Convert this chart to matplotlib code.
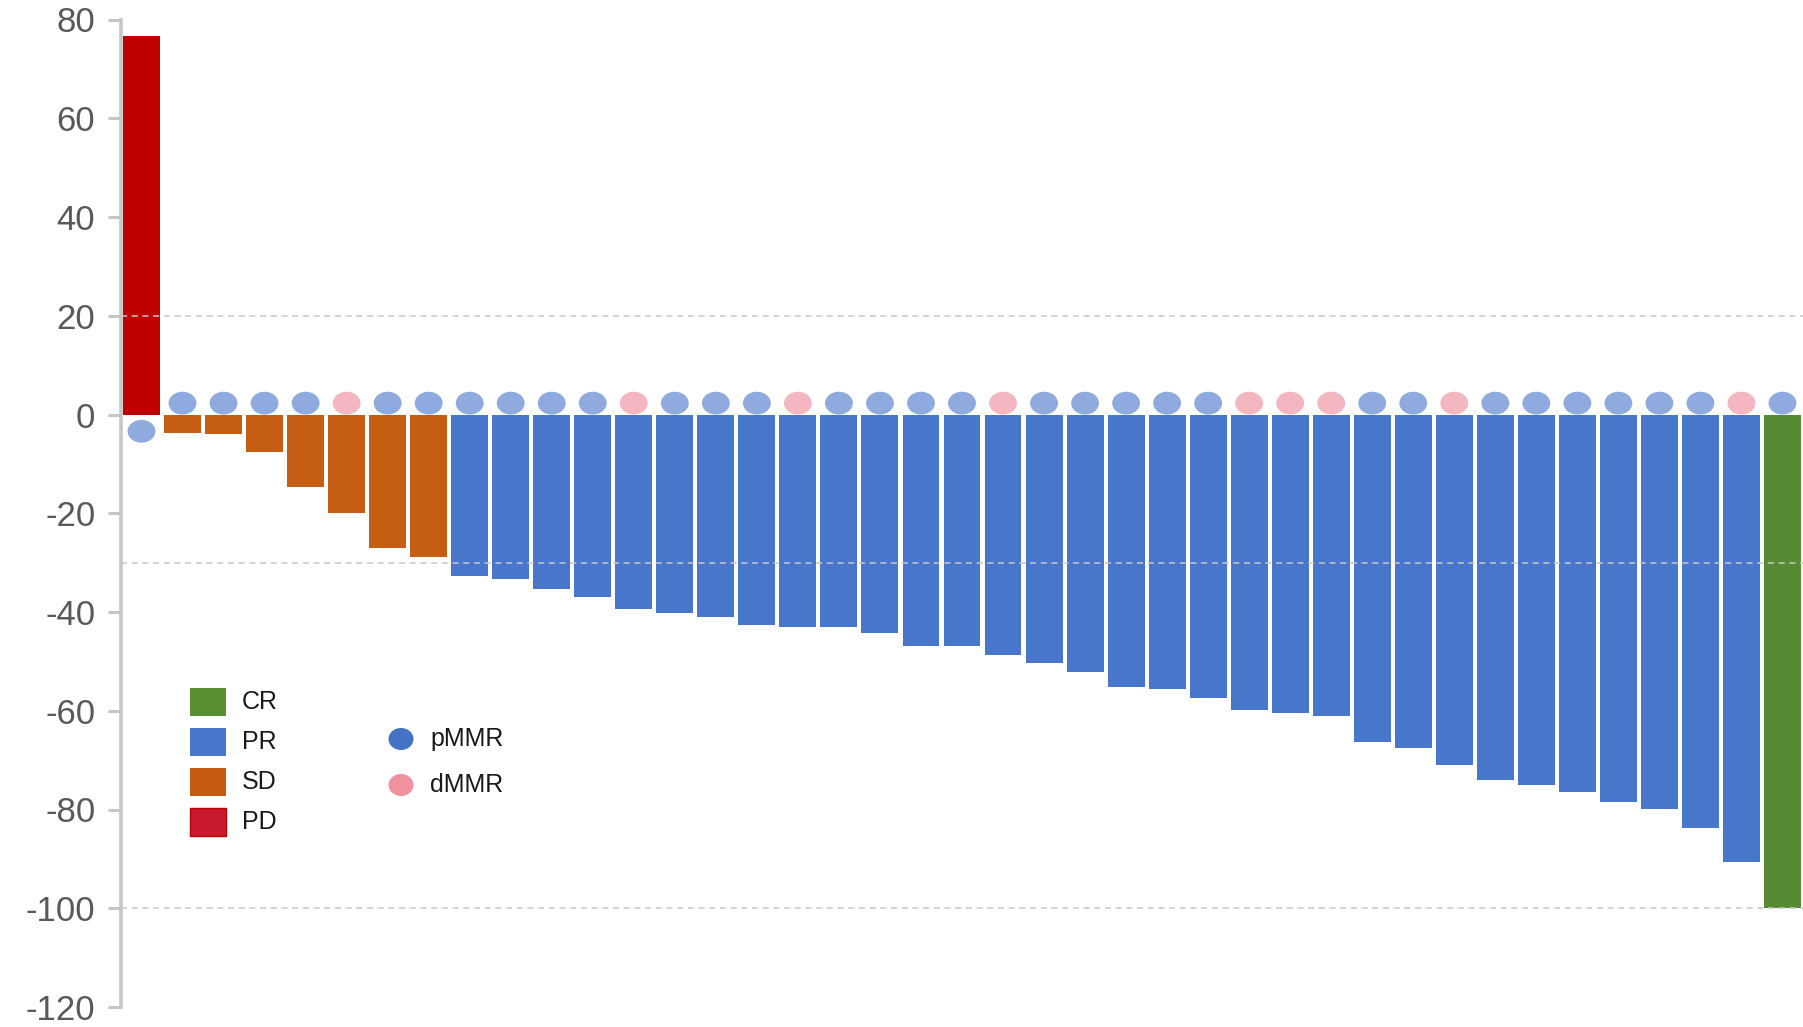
import numpy as np
import matplotlib
matplotlib.use("Agg")
import matplotlib.pyplot as plt
from matplotlib.markers import MarkerStyle
from matplotlib.transforms import Affine2D
from matplotlib.patches import Rectangle, Ellipse

plt.rcParams["font.family"] = ["Liberation Sans", "DejaVu Sans"]
plt.rcParams["axes.unicode_minus"] = False

# best change from baseline (%), one bar per patient
pd_vals = [76.6]
sd_vals = [-3.7, -4.0, -7.5, -14.7, -20.0, -27.0, -28.9]
pr_vals = [-32.8, -33.3, -35.4, -37.0, -39.4, -40.3, -41.0, -42.6, -43.1, -43.1,
           -44.2, -46.8, -46.8, -48.7, -50.3, -52.2, -55.2, -55.6, -57.5, -59.8,
           -60.5, -61.0, -66.4, -67.5, -71.0, -74.0, -75.0, -76.4, -78.5, -79.9,
           -83.8, -90.6]
cr_vals = [-100.0]

# MMR status per bar (same order as the bars)
dmmr_idx = [5, 12, 16, 21, 27, 28, 29, 32, 39]

ref_lines = [20, -30, -100]
yticks = list(range(-120, 81, 20))

colors = {"CR": "#578b33", "PR": "#4876ca", "SD": "#c55e12", "PD": "#c00000"}
mark_colors = {"pMMR": "#8eaadf", "dMMR": "#f4b6c0"}

values = pd_vals + sd_vals + pr_vals + cr_vals
groups = ["PD"] * len(pd_vals) + ["SD"] * len(sd_vals) + ["PR"] * len(pr_vals) + ["CR"] * len(cr_vals)
x = np.arange(len(values))

W, H = 1803, 1027
fig = plt.figure(figsize=(W / 100, H / 100), dpi=100)
ax = fig.add_axes([121 / W, 1 - 1007 / H, 1 - 121 / W, (1007 - 19.5) / H])

ax.bar(x, values, width=0.9, color=[colors[g] for g in groups], zorder=2)

for y in ref_lines:
    ax.axhline(y, color="#c8c8c8", lw=1.1, ls=(0, (4, 3)), zorder=3)

# MMR markers: above the zero line, below it for a positive bar
mstat = ["dMMR" if i in dmmr_idx else "pMMR" for i in x]
my = [-3.4 if v > 0 else 2.3 for v in values]
ell = MarkerStyle("o", transform=Affine2D().scale(1.22, 1))
ax.scatter(x, my, s=270, marker=ell, c=[mark_colors[m] for m in mstat],
           linewidths=0, zorder=4)

ax.set_xlim(-0.5, len(values) - 0.5)
ax.set_ylim(-120, 80)
ax.set_yticks(yticks)
ax.set_xticks([])
for s in ["top", "right", "bottom"]:
    ax.spines[s].set_visible(False)
ax.spines["left"].set_color("#c6c6c6")
ax.spines["left"].set_linewidth(2.6)
ax.tick_params(axis="y", length=9.5, width=2.2, color="#c6c6c6", pad=9,
               labelsize=25, labelcolor="#595959")
ax.patch.set_alpha(0)

# legend for response
tf = fig.transFigure
resp = ["CR", "PR", "SD", "PD"]
resp_leg = {"CR": "#5a8f32", "PR": "#4a76cc", "SD": "#c55a11", "PD": "#c8192e"}
for i, r in enumerate(resp):
    cy = 702 + 40 * i
    fig.add_artist(Rectangle((190 / W, 1 - (cy + 14) / H), 36 / W, 28 / H,
                             transform=tf, facecolor=resp_leg[r],
                             edgecolor="#c00000" if r == "PD" else "none", lw=1))
    fig.text(242 / W, 1 - cy / H, r, transform=tf, fontsize=18, color="#1a1a1a",
             va="center", ha="left")

# legend for MMR
mmr = ["pMMR", "dMMR"]
mmr_leg = {"pMMR": "#4472c4", "dMMR": "#f0919f"}
for i, m in enumerate(mmr):
    cy = 739 + 46 * i
    fig.add_artist(Ellipse((401 / W, 1 - cy / H), 25 / W, 22 / H, transform=tf,
                           facecolor=mmr_leg[m], edgecolor="none"))
    fig.text(430 / W, 1 - cy / H, m, transform=tf, fontsize=18, color="#1a1a1a",
             va="center", ha="left")

fig.savefig("out.png", dpi=100)
